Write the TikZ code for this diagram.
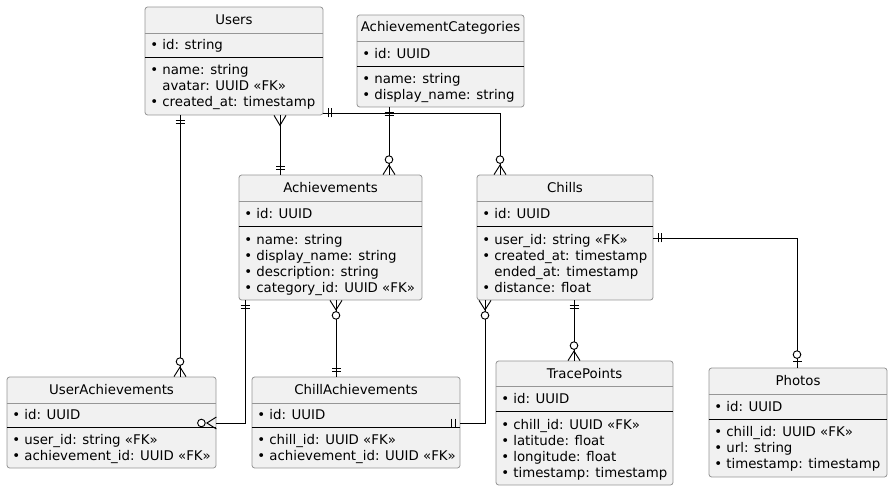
\documentclass[tikz,border=0pt]{standalone}
\usepackage{fontspec}
\setmainfont{DejaVu Sans}
\usetikzlibrary{fit}

\definecolor{boxfill}{RGB}{241,241,241}
\definecolor{boxline}{RGB}{150,150,150}
\newcommand{\bul}{\textbullet\ }
\newcommand{\nob}{\phantom{\textbullet\ }}

\tikzset{
  entity/.style={draw=boxline, fill=boxfill, rounded corners=2pt, inner sep=0pt, line width=0.6pt},
  headsep/.style={draw=boxline, line width=0.6pt},
  idsep/.style={draw=black, line width=0.7pt},
  title/.style={font=\fontsize{10}{12}\selectfont, inner sep=0pt},
  attr/.style={font=\fontsize{10}{12}\selectfont, anchor=west, inner sep=0pt, text height=1.5ex, text depth=.25ex},
  rel/.style={draw=black, line width=0.7pt},
  % crow's foot ends, drawn leaving the box along +x
  one/.pic={\draw[rel] (5,-4.5) -- (5,4.5) (8.5,-4.5) -- (8.5,4.5);},
  many/.pic={\draw[rel] (0,-6) -- (10,0) -- (0,6);},
  zmany/.pic={\draw[rel] (0,-6) -- (9.5,0) -- (0,6); \draw[rel, fill=white] (15,0) circle (3.8);},
  zone/.pic={\draw[rel] (6,-4.5) -- (6,4.5); \draw[rel, fill=white] (13,0) circle (3.8);}
}

\begin{document}
\begin{tikzpicture}[x=0.75pt,y=0.75pt,yscale=-1,xscale=1]
\useasboundingbox (0,0) rectangle (892,491);

%Entity: Users
\node[entity, fit={(145,7) (323,115)}] (users) {};
\draw[headsep] (users.west |- 0,33) -- (users.east |- 0,33);
\draw[idsep] (users.west |- 0,57) -- (users.east |- 0,57);
\node[title] (users-t) at (users.north |- 0,20) {Users};
\node[attr] (users-id) at (150,45) {\bul id: string};
\foreach \t [count=\i] in {{\bul name: string},{\nob avatar: UUID «FK»},{\bul created\_at: timestamp}}
  \node[attr] (users-\i) at (150,54+16*\i) {\t};

%Entity: AchievementCategories
\node[entity, fit={(357,15) (524,107)}] (cats) {};
\draw[headsep] (cats.west |- 0,41.5) -- (cats.east |- 0,41.5);
\draw[idsep] (cats.west |- 0,66) -- (cats.east |- 0,66);
\node[title] (cats-t) at (cats.north |- 0,28) {AchievementCategories};
\node[attr] (cats-id) at (362,53.5) {\bul id: UUID};
\foreach \t [count=\i] in {{\bul name: string},{\bul display\_name: string}}
  \node[attr] (cats-\i) at (362,63+16*\i) {\t};

%Entity: Achievements
\node[entity, fit={(239,175) (422,300)}] (ach) {};
\draw[headsep] (ach.west |- 0,201.5) -- (ach.east |- 0,201.5);
\draw[idsep] (ach.west |- 0,226.5) -- (ach.east |- 0,226.5);
\node[title] (ach-t) at (ach.north |- 0,188) {Achievements};
\node[attr] (ach-id) at (244,213.5) {\bul id: UUID};
\foreach \t [count=\i] in {{\bul name: string},{\bul display\_name: string},{\bul description: string},{\bul category\_id: UUID «FK»}}
  \node[attr] (ach-\i) at (244,223.5+16*\i) {\t};

%Entity: Chills
\node[entity, fit={(477,175) (653,300)}] (chills) {};
\draw[headsep] (chills.west |- 0,201.5) -- (chills.east |- 0,201.5);
\draw[idsep] (chills.west |- 0,226.5) -- (chills.east |- 0,226.5);
\node[title] (chills-t) at (chills.north |- 0,188) {Chills};
\node[attr] (chills-id) at (482,213.5) {\bul id: UUID};
\foreach \t [count=\i] in {{\bul user\_id: string «FK»},{\bul created\_at: timestamp},{\nob ended\_at: timestamp},{\bul distance: float}}
  \node[attr] (chills-\i) at (482,223.5+16*\i) {\t};

%Entity: UserAchievements
\node[entity, fit={(7,377) (216,468)}] (ua) {};
\draw[headsep] (ua.west |- 0,403) -- (ua.east |- 0,403);
\draw[idsep] (ua.west |- 0,427) -- (ua.east |- 0,427);
\node[title] (ua-t) at (ua.north |- 0,390) {UserAchievements};
\node[attr] (ua-id) at (12,415) {\bul id: UUID};
\foreach \t [count=\i] in {{\bul user\_id: string «FK»},{\bul achievement\_id: UUID «FK»}}
  \node[attr] (ua-\i) at (12,424+16*\i) {\t};

%Entity: ChillAchievements
\node[entity, fit={(252,377) (460,468)}] (ca) {};
\draw[headsep] (ca.west |- 0,403) -- (ca.east |- 0,403);
\draw[idsep] (ca.west |- 0,427) -- (ca.east |- 0,427);
\node[title] (ca-t) at (ca.north |- 0,390) {ChillAchievements};
\node[attr] (ca-id) at (257,415) {\bul id: UUID};
\foreach \t [count=\i] in {{\bul chill\_id: UUID «FK»},{\bul achievement\_id: UUID «FK»}}
  \node[attr] (ca-\i) at (257,424+16*\i) {\t};

%Entity: TracePoints
\node[entity, fit={(496,361) (673,485)}] (tp) {};
\draw[headsep] (tp.west |- 0,386.5) -- (tp.east |- 0,386.5);
\draw[idsep] (tp.west |- 0,411.5) -- (tp.east |- 0,411.5);
\node[title] (tp-t) at (tp.north |- 0,373.5) {TracePoints};
\node[attr] (tp-id) at (501,399) {\bul id: UUID};
\foreach \t [count=\i] in {{\bul chill\_id: UUID «FK»},{\bul latitude: float},{\bul longitude: float},{\bul timestamp: timestamp}}
  \node[attr] (tp-\i) at (501,408.5+16*\i) {\t};

%Entity: Photos
\node[entity, fit={(709,368) (887,477)}] (photos) {};
\draw[headsep] (photos.west |- 0,394) -- (photos.east |- 0,394);
\draw[idsep] (photos.west |- 0,419) -- (photos.east |- 0,419);
\node[title] (photos-t) at (photos.north |- 0,381) {Photos};
\node[attr] (photos-id) at (714,406.5) {\bul id: UUID};
\foreach \t [count=\i] in {{\bul chill\_id: UUID «FK»},{\bul url: string},{\bul timestamp: timestamp}}
  \node[attr] (photos-\i) at (714,416+16*\i) {\t};

%Relations
\draw[rel] (users.south -| 180,0) -- (ua.north -| 180,0);
\pic[rotate=-90] at (users.south -| 180,0) {one};
\pic[rotate=90] at (ua.north -| 180,0) {zmany};

\draw[rel] (users.south -| 280,0) -- (ach.north -| 280,0);
\pic[rotate=-90] at (users.south -| 280,0) {many};
\pic[rotate=90] at (ach.north -| 280,0) {one};

\draw[rel] (users.east |- 0,113) -| (chills.north -| 500,0);
\pic at (users.east |- 0,113) {one};
\pic[rotate=90] at (chills.north -| 500,0) {zmany};

\draw[rel] (cats.south -| 389,0) -- (ach.north -| 389,0);
\pic[rotate=-90] at (cats.south -| 389,0) {one};
\pic[rotate=90] at (ach.north -| 389,0) {zmany};

\draw[rel] (chills.east |- 0,238) -| (photos.north -| 797,0);
\pic at (chills.east |- 0,238) {one};
\pic[rotate=90] at (photos.north -| 797,0) {zone};

\draw[rel] (chills.south -| 574,0) -- (tp.north -| 574,0);
\pic[rotate=-90] at (chills.south -| 574,0) {one};
\pic[rotate=90] at (tp.north -| 574,0) {zmany};

\draw[rel] (chills.south -| 485,0) |- (ca.east |- 0,423);
\pic[rotate=-90] at (chills.south -| 485,0) {zmany};
\pic[rotate=180] at (ca.east |- 0,423) {one};

\draw[rel] (ach.south -| 336,0) -- (ca.north -| 336,0);
\pic[rotate=-90] at (ach.south -| 336,0) {zmany};
\pic[rotate=90] at (ca.north -| 336,0) {one};

\draw[rel] (ach.south -| 245,0) |- (ua.east |- 0,423);
\pic[rotate=-90] at (ach.south -| 245,0) {one};
\pic[rotate=180] at (ua.east |- 0,423) {zmany};

\end{tikzpicture}
\end{document}
